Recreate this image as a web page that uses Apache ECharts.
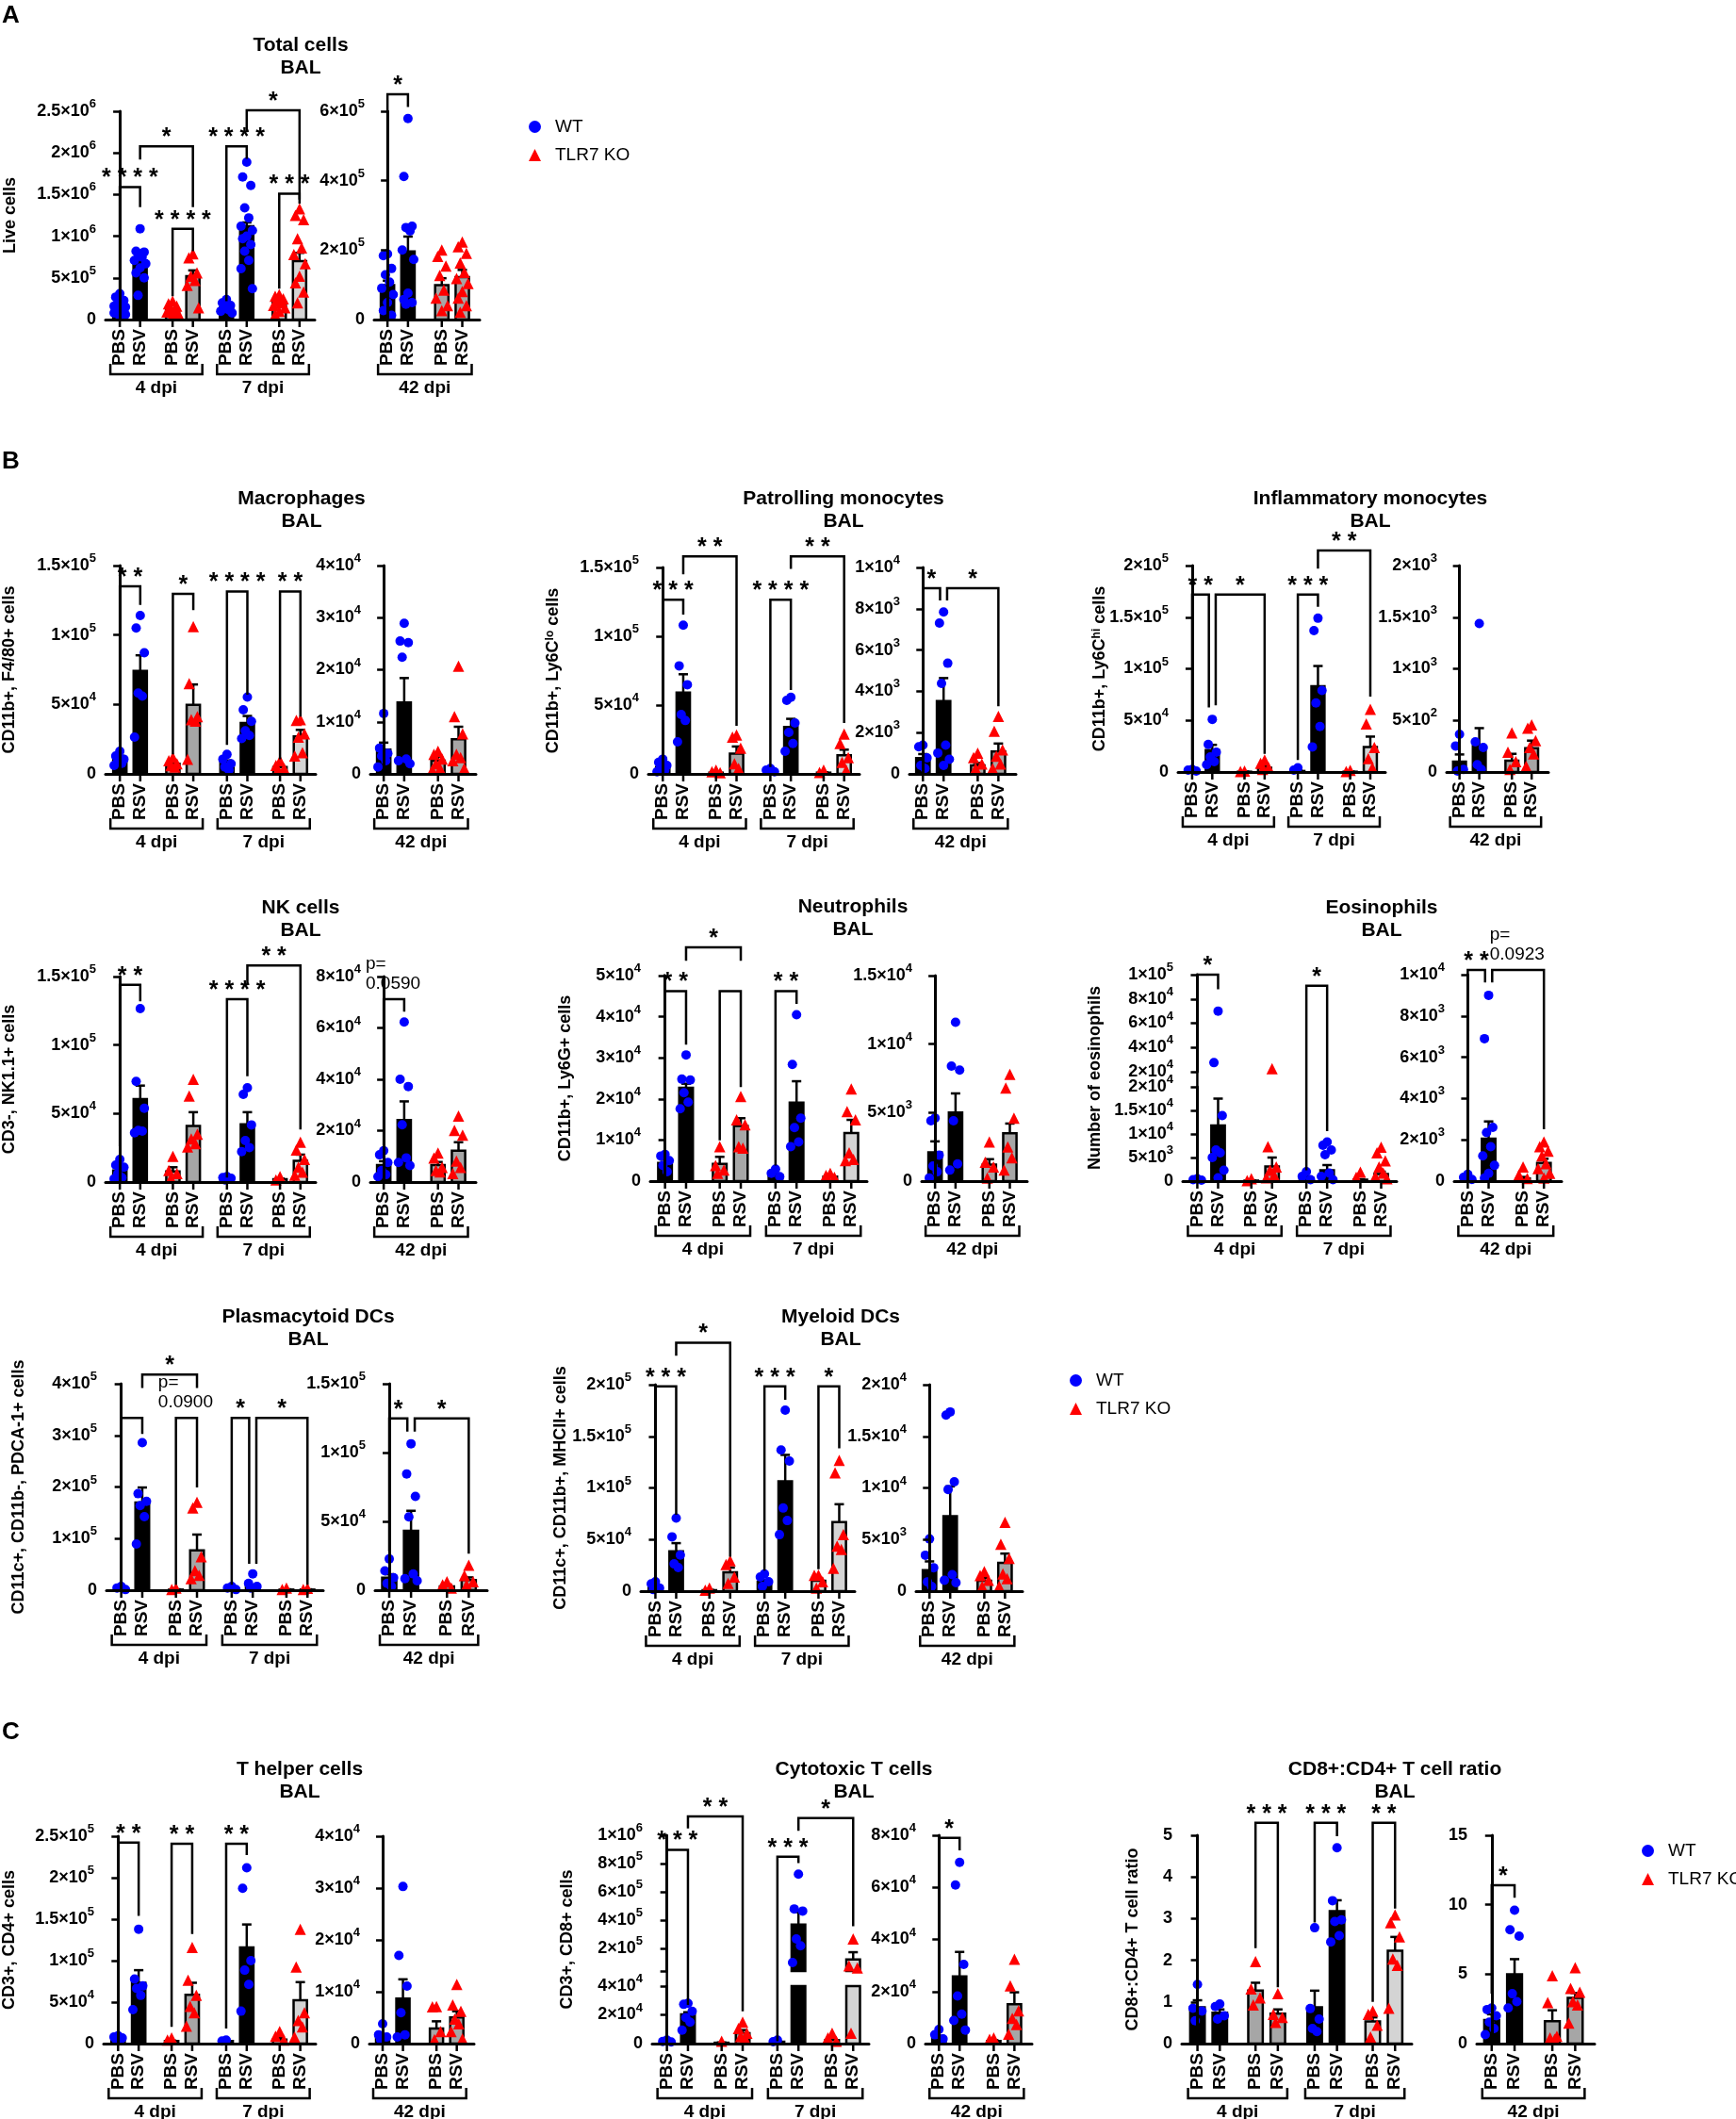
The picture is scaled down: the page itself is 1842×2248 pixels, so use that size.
<!DOCTYPE html>
<html>
<head>
<meta charset="utf-8">
<script src="https://cdn.jsdelivr.net/npm/echarts@6/dist/echarts.min.js"></script>
<style>
html, body { margin: 0; background: #fff; }
#chart-container { width: 1842px; height: 2248px; }
</style>
</head>
<body>
<div id="chart-container"></div>
<script>
// ---- categories ----
const treatments = ['PBS','RSV','PBS','RSV','PBS','RSV','PBS','RSV','PBS','RSV','PBS','RSV'];
const genotypes = ['WT','WT','TLR7 KO','TLR7 KO','WT','WT','TLR7 KO','TLR7 KO','WT','WT','TLR7 KO','TLR7 KO'];
const timepoints = ['4 dpi','7 dpi','42 dpi'];

// bar order: 4dpi WT PBS, WT RSV, KO PBS, KO RSV, 7dpi (same), 42dpi (same)
// sig rows: [bar1, bar2, bracket top, left leg end, right leg end, label]

// ---- Total cells ----
const totalMean = [1.3e5, 7.1e5, 1.2e5, 5.2e5, 1.4e5, 1.12e6, 2.1e5, 7.0e5, 9.9e4, 1.96e5, 9.9e4, 1.22e5];
const totalSem = [2e4, 5.5e4, 1.5e4, 7e4, 2e4, 4.5e4, 2e4, 1.0e5, 1.3e4, 4.3e4, 2.0e4, 2.1e4];
const totalPts = [
  [310e3,270e3,230e3,200e3,180e3,160e3,150e3,130e3,120e3,110e3,100e3,90e3,80e3,60e3,40e3],
  [1090e3,820e3,810e3,790e3,750e3,710e3,670e3,620e3,560e3,500e3,290e3],
  [220e3,190e3,160e3,130e3,110e3,90e3,70e3,50e3],
  [790e3,740e3,560e3,520e3,470e3,410e3,140e3],
  [240e3,200e3,170e3,140e3,120e3,100e3,80e3],
  [1890e3,1710e3,1610e3,1340e3,1220e3,1120e3,1070e3,1000e3,970e3,900e3,820e3,710e3,610e3,370e3],
  [300e3,280e3,250e3,220e3,200e3,170e3,140e3,100e3,60e3],
  [1330e3,1250e3,1200e3,970e3,860e3,780e3,670e3,520e3,440e3,330e3,200e3],
  [189e3,184e3,147e3,129e3,108e3,90e3,72e3,49e3,26e3,12e3],
  [579e3,412e3,269e3,265e3,255e3,200e3,173e3,76e3,58e3,49e3,44e3],
  [200e3,182e3,154e3,127e3,85e3,62e3,40e3,26e3],
  [223e3,210e3,191e3,163e3,136e3,118e3,104e3,81e3,62e3,40e3,21e3]
];
const totalSig = [
  [0,1,1.59e6,3.5e5,1.35e6,'****'], [1,3,2.08e6,1.92e6,1.35e6,'*'], [2,3,1.09e6,2.8e5,8.2e5,'****'],
  [4,5,2.08e6,2.2e5,1.93e6,'****'], [5,7,2.51e6,2.25e6,1.39e6,'*'], [6,7,1.51e6,3.7e5,1.44e6,'***'],
  [8,9,6.49e5,2.0e5,6.12e5,'*']
];
const totalTicksL = [0,5e5,1e6,1.5e6,2e6,2.5e6];
const totalTicksR = [0,2e5,4e5,6e5];

// ---- Macrophages ----
const macroMean = [1.05e4, 7.41e4, 7.3e3, 4.98e4, 7.9e3, 3.67e4, 5e3, 2.7e4, 4.65e3, 1.37e4, 2.54e3, 6.65e3];
const macroSem = [2.5e3, 1.13e4, 1.5e3, 1.46e4, 1.8e3, 5e3, 1.2e3, 4.7e3, 1.35e3, 4.7e3, 0.8e3, 2.4e3];
const macroPts = [
  [16.3e3,12.9e3,10.6e3,9.5e3,7.7e3,6.1e3], [114e3,105e3,87.2e3,58.2e3,56e3,26.5e3],
  [11.8e3,9.5e3,7.3e3,6.0e3,5.0e3], [106e3,65e3,41.2e3,39e3,38e3,10.6e3],
  [14e3,10.6e3,7.3e3,5e3,2.7e3], [55.3e3,46.2e3,37.8e3,31e3,27.6e3,25.4e3],
  [9.5e3,6.1e3,3.9e3,2.7e3], [39e3,38.5e3,28.8e3,26.5e3,15.2e3,12.9e3],
  [11.6e3,4.95e3,3.93e3,3.44e3,2.54e3,1.33e3], [28.9e3,25.5e3,25.2e3,22.4e3,2.84e3,2.54e3,1.93e3],
  [4.35e3,3.75e3,2.84e3,1.93e3,1.03e3,0.73e3], [20.7e3,11.0e3,7.67e3,3.75e3,3.14e3,2.54e3,1.03e3]
];
const macroSig = [
  [0,1,135e3,23e3,121.7e3,'**'], [2,3,129.6e3,14e3,118e3,'*'],
  [4,5,131.4e3,20.8e3,57e3,'****'], [6,7,131.4e3,10.6e3,41.2e3,'**']
];
const macroTicksL = [0,5e4,1e5,1.5e5];
const macroTicksR = [0,1e4,2e4,3e4,4e4];

// ---- Patrolling monocytes ----
const patrolMean = [5e3, 59.1e3, 0.9e3, 14.8e3, 2e3, 34e3, 0.9e3, 13.5e3, 760, 3530, 410, 1090];
const patrolSem = [1.5e3, 13.3e3, 0.3e3, 5.1e3, 0.4e3, 6e3, 0.3e3, 4.1e3, 200, 1110, 120, 380];
const patrolPts = [
  [10.7e3,8.4e3,6.2e3,5e3,2.7e3,1.6e3], [108e3,78.5e3,64.8e3,43.2e3,38.8e3,23.3e3],
  [2.7e3,1.6e3,0.9e3], [28.3e3,26.7e3,18.7e3,7.3e3,3.9e3],
  [3.9e3,2.7e3,1.6e3], [55.7e3,53.4e3,37e3,30.1e3,22.1e3,16.4e3],
  [2.7e3,1.1e3], [29e3,22.1e3,11.9e3,8.4e3,2.7e3],
  [1390,1310,780,410,260], [7840,7310,5360,4380,1390,1010,710,410],
  [1010,790,480,260], [2780,2070,1160,860,480,260]
];
const patrolSig = [
  [0,1,126.5e3,24.4e3,115.7e3,'***'], [1,3,158e3,145e3,35e3,'**'],
  [4,5,126.5e3,5e3,61e3,'****'], [5,7,158e3,149e3,37e3,'**'],
  [8,9,9.0e3,2.0e3,8.4e3,'*'], [9,11,9.0e3,8.4e3,3.28e3,'*']
];
const patrolTicksL = [0,5e4,1e5,1.5e5];
const patrolTicksR = [0,2e3,4e3,6e3,8e3,1e4];

// ---- Inflammatory monocytes ----
const inflamMean = [1e3, 21.3e3, 0.3e3, 4e3, 1e3, 83e3, 0.3e3, 24.3e3, 100, 252, 109, 231];
const inflamSem = [0.3e3, 5e3, 0.1e3, 2e3, 0.5e3, 19.7e3, 0.1e3, 10e3, 70, 173, 67, 73];
const inflamPts = [
  [2.4e3,1.8e3,0.9e3], [51e3,26.7e3,19.1e3,14.6e3,10e3,7e3],
  [0.9e3,0.5e3], [11.6e3,8.5e3,4e3,2.4e3],
  [4e3,1.8e3], [149e3,137e3,79e3,66.9e3,44e3,24.3e3],
  [1.5e3,0.5e3], [60.8e3,46.5e3,23.7e3,13e3,4e3],
  [365,252,24,9], [1438,292,237,70,24],
  [380,191,100,24], [456,425,304,237,176,55]
];
const inflamSig = [
  [0,1,172e3,11.6e3,62.6e3,'**'], [1,3,172e3,64.7e3,17.6e3,'*'],
  [4,5,172e3,11.6e3,160e3,'***'], [5,7,214.6e3,197e3,73e3,'**']
];
const inflamTicksL = [0,5e4,1e5,1.5e5,2e5];
const inflamTicksR = [0,500,1000,1500,2000];

// ---- NK cells ----
const nkMean = [8.5e3, 60.6e3, 7.8e3, 41e3, 2.8e3, 42.2e3, 2e3, 15.4e3, 6.6e3, 24.1e3, 6.6e3, 12.2e3];
const nkSem = [1.6e3, 9.8e3, 3e3, 10e3, 0.5e3, 8.8e3, 0.5e3, 4.6e3, 1.5e3, 7.3e3, 1.2e3, 3.3e3];
const nkPts = [
  [16.5e3,12.4e3,10.8e3,6.2e3,3.2e3,2.3e3], [126.6e3,73.4e3,53.9e3,37.6e3,37.2e3,36e3],
  [18.8e3,8.5e3,6.2e3,2.8e3], [75e3,62.8e3,34.9e3,31.4e3,28e3,25.7e3],
  [3.9e3,3.2e3,2.8e3,1.6e3], [68.8e3,64e3,41.7e3,30.3e3,25.2e3,22.2e3],
  [3.9e3,1.6e3], [29.1e3,23.4e3,16.5e3,10.8e3,7.3e3,5e3],
  [12.2e3,10.6e3,7.6e3,4.5e3,2.9e3,2.1e3], [62.3e3,40e3,37.2e3,22.3e3,9.4e3,7.6e3,6.4e3],
  [11.3e3,9.4e3,5.7e3,4.5e3,3.9e3], [25.7e3,20.1e3,18.3e3,8.2e3,5.7e3,3.3e3]
];
const nkSig = [
  [0,1,144e3,26.1e3,131.9e3,'**'], [4,5,133.5e3,3.2e3,77.3e3,'****'],
  [5,7,158e3,143.8e3,38.3e3,'**'], [8,9,71.2e3,14.3e3,66.3e3,'p=\n0.0590']
];
const nkTicksL = [0,5e4,1e5,1.5e5];
const nkTicksR = [0,2e4,4e4,6e4,8e4];

// ---- Neutrophils ----
const neutMean = [4.4e3, 22.7e3, 4.2e3, 13.4e3, 1.5e3, 19.1e3, 1.1e3, 11.7e3, 2.1e3, 5.0e3, 1.2e3, 3.5e3];
const neutSem = [0.8e3, 1.0e3, 1.7e3, 1.9e3, 0.3e3, 5.2e3, 0.2e3, 3.2e3, 0.8e3, 1.4e3, 0.4e3, 0.7e3];
const neutPts = [
  [6.5e3,6.1e3,5e3,3.8e3,2.3e3], [30.7e3,24.8e3,24.6e3,21.5e3,19.2e3,17.6e3],
  [8.4e3,3.8e3,2.7e3,1.9e3], [20.6e3,14.9e3,13.7e3,8.4e3,8e3],
  [2.9e3,1.9e3,1.1e3], [40.5e3,28.4e3,15.3e3,13e3,9.5e3,8.4e3],
  [1.9e3,1.4e3,0.9e3], [22.4e3,16.9e3,14.9e3,6.9e3,5.3e3,5e3],
  [4.6e3,4.4e3,1.9e3,1.1e3,680,230], [11.6e3,8.4e3,8.1e3,4.4e3,1250,800],
  [2850,1370,1030,230], [7.8e3,6.8e3,4.6e3,2.5e3,1.7e3,800]
];
const neutSig = [
  [0,1,46.2e3,8.4e3,33.2e3,'**'], [1,3,56.9e3,53.6e3,53.6e3,'*'],
  [2,3,46.2e3,9.9e3,22.9e3,''], [4,5,46.2e3,3.8e3,43.1e3,'**']
];
const neutTicksL = [0,1e4,2e4,3e4,4e4,5e4];
const neutTicksR = [0,5e3,1e4,1.5e4];

// ---- Eosinophils (broken left axis) ----
const eosMean = [200, 11.8e3, 100, 3.1e3, 700, 2.3e3, 300, 1.5e3, 80, 2050, 120, 880];
const eosSem = [100, 5.7e3, 50, 1.9e3, 300, 1.1e3, 100, 500, 30, 840, 80, 200];
const eosPts = [
  [500,300,200], [70e3,27.5e3,13.9e3,6.6e3,6.0e3,5e3,2.3e3,700],
  [500,100], [22.6e3,7.3e3,3.0e3,2.3e3,1.3e3,700],
  [2.0e3,1.0e3,300], [8.3e3,7.6e3,6.6e3,5.6e3,1.7e3,1.0e3,300],
  [1.9e3,800], [7.2e3,6.0e3,4.3e3,3.0e3,1.7e3,1.0e3,500],
  [330,180,80], [9000,6900,2600,2350,1670,1220,760,380,150],
  [680,300,120], [1900,1670,1450,1220,840,610,380,150]
];
const eosSig = [
  [0,1,1e5,1.3e3,88e3,'*'], [4,5,90.8e3,2.3e3,10.6e3,'*'],
  [8,9,10.23e3,380,9.62e3,'**'], [9,11,10.23e3,9.62e3,2.51e3,'p=\n0.0923']
];
const eosTicksL = [0,5e3,1e4,1.5e4,2e4];
const eosTicksHi = [2e4,4e4,6e4,8e4,1e5];
const eosTicksR = [0,2e3,4e3,6e3,8e3,1e4];
const eosBreak = 2e4;

// ---- Plasmacytoid DCs ----
const pdcMean = [2.4e3, 170e3, 1.2e3, 77.3e3, 2.4e3, 7.3e3, 1.2e3, 1.2e3, 9.1e3, 43.2e3, 2.7e3, 7.3e3];
const pdcSem = [1e3, 29e3, 0.5e3, 30.5e3, 1e3, 3e3, 0.5e3, 0.5e3, 2.5e3, 14.5e3, 0.8e3, 2e3];
const pdcPts = [
  [7.3e3,4.3e3,1.2e3], [286e3,187e3,172e3,164e3,142.5e3,89.5e3],
  [4.3e3,1.2e3], [170.5e3,159.5e3,65e3,37.7e3,28.6e3,22.5e3],
  [7.3e3,4.3e3,1.2e3], [31.7e3,13.4e3,7.3e3,4.3e3],
  [4.3e3,1.2e3], [3.7e3,1.2e3],
  [22.7e3,14.1e3,9.1e3,5e3,2.7e3], [106.4e3,84.5e3,68.2e3,53.2e3,11.8e3,8.4e3,6.8e3],
  [6.1e3,3.9e3,1.6e3], [18.2e3,10.7e3,6.1e3,3.9e3]
];
const pdcSig = [
  [0,1,334e3,10.3e3,302.6e3,''], [1,3,418e3,392e3,392e3,'*'], [2,3,334e3,10.3e3,199e3,'p=\n0.0900'],
  [4,5,334e3,10.3e3,51e3,'*'], [5,7,334e3,51e3,10.3e3,'*'],
  [8,9,124.8e3,28.2e3,115.2e3,'*'], [9,11,124.8e3,115.2e3,26.6e3,'*']
];
const pdcTicksL = [0,1e5,2e5,3e5,4e5];
const pdcTicksR = [0,5e4,1e5,1.5e5];

// ---- Myeloid DCs ----
const mdcMean = [4.6e3, 38.6e3, 0.9e3, 18.2e3, 9.1e3, 106.4e3, 10e3, 66.9e3, 2.03e3, 7.27e3, 1.0e3, 2.73e3];
const mdcSem = [1.2e3, 7.9e3, 0.3e3, 4.6e3, 1.5e3, 25.6e3, 2e3, 17.3e3, 0.85e3, 2.88e3, 0.3e3, 0.91e3];
const mdcPts = [
  [9.1e3,7e3,3e3,1.5e3], [70.8e3,52.6e3,35e3,26.4e3,22.8e3],
  [3e3,0.9e3], [29.5e3,25.8e3,13.7e3,7.6e3],
  [16.7e3,13.7e3,9.1e3,4.6e3], [175.4e3,136.8e3,126.1e3,80.5e3,68.4e3,54.7e3],
  [15.5e3,15.2e3,9.1e3,3e3], [126.7e3,114.6e3,54.7e3,43.5e3,40.4e3,22.2e3],
  [5.06e3,3.48e3,2.27e3,900,450], [17.36e3,17.06e3,10.6e3,9.85e3,1.6e3,1.06e3,820],
  [1.9e3,1.5e3,1.06e3,450], [6.67e3,4.55e3,3.18e3,1.67e3,1.2e3,450]
];
const mdcSig = [
  [0,1,198.5e3,9.1e3,73.9e3,'***'], [1,3,240.7e3,228e3,33.4e3,'*'],
  [4,5,198.5e3,19.8e3,185.4e3,'***'], [6,7,198.5e3,21.3e3,138.3e3,'*']
];
const mdcTicksL = [0,5e4,1e5,1.5e5,2e5];
const mdcTicksR = [0,5e3,1e4,1.5e4,2e4];

// ---- T helper cells ----
const thMean = [5.7e3, 73.3e3, 3e3, 58.9e3, 3e3, 115.9e3, 4.9e3, 52.4e3, 1.39e3, 8.67e3, 2.9e3, 5.03e3];
const thSem = [1e3, 15.2e3, 0.6e3, 14.4e3, 0.4e3, 27.7e3, 2e3, 21.7e3, 0.4e3, 3.73e3, 1.4e3, 1.21e3];
const thPts = [
  [9.5e3,8e3,6.8e3,5e3,4.2e3], [137.9e3,77.9e3,69.5e3,66.5e3,58.1e3,41e3],
  [6.8e3,4.2e3], [115.9e3,76.4e3,58.1e3,44.8e3,37.2e3,20.9e3],
  [4.2e3,3e3], [212e3,187.3e3,99.9e3,88.5e3,71.4e3,39.1e3],
  [14.4e3,8.7e3,4.2e3], [137.9e3,92.3e3,37.2e3,27.7e3,20.1e3,8e3],
  [3.82e3,1.7e3,1.27e3,790], [30.3e3,17e3,11.1e3,5.94e3,1.7e3,1.27e3],
  [7.15e3,7.1e3,2.3e3,790], [11.4e3,7.45e3,6.24e3,4.73e3,3.82e3,2.3e3,910]
];
const thSig = [
  [0,1,242.4e3,20.9e3,153.9e3,'**'], [2,3,241e3,20.1e3,132.2e3,'**'], [4,5,241e3,18.2e3,227.2e3,'**']
];
const thTicksL = [0,5e4,1e5,1.5e5,2e5,2.5e5];
const thTicksR = [0,1e4,2e4,3e4,4e4];

// ---- Cytotoxic T cells (broken left axis) ----
const tcMean = [1.1e3, 20.3e3, 0.6e3, 7.2e3, 1.3e3, 367.6e3, 2.4e3, 122e3, 2.2e3, 25.8e3, 1e3, 15.1e3];
const tcSem = [0.3e3, 1.5e3, 0.2e3, 2.2e3, 0.3e3, 89e3, 1.2e3, 51e3, 0.8e3, 9.4e3, 0.3e3, 4.6e3];
const tcPts = [
  [2.4e3,1.5e3,1.1e3], [28e3,27.3e3,22.5e3,18e3,14.9e3,9.4e3],
  [1.7e3], [14.9e3,10.5e3,7.2e3,5e3,3.9e3],
  [2.4e3,1.3e3], [725e3,479e3,464e3,267e3,218e3,99.5e3],
  [7.2e3,3.9e3,1.7e3], [267e3,77e3,61.5e3,7.2e3],
  [5.45e3,3.4e3,1.8e3], [69.6e3,60.9e3,30.4e3,18.3e3,11.3e3,8.85e3,5.2e3],
  [2.2e3,1.6e3], [32.4e3,22.2e3,12.6e3,9.7e3,7.3e3,3.6e3]
];
const tcSig = [
  [0,1,897e3,1.7e3,26.9e3,'***'], [1,3,1134e3,1049e3,22.5e3,'**'],
  [4,5,848e3,1.7e3,803e3,'***'], [5,7,1121e3,1031e3,356e3,'*'],
  [8,9,79e3,7e3,74.2e3,'*']
];
const tcTicksL = [0,1e4,2e4,3e4,4e4];
const tcTicksHi = [2e5,4e5,6e5,8e5,1e6];
const tcTicksR = [0,2e4,4e4,6e4,8e4];
const tcBreak = 4e4;

// ---- CD8+:CD4+ ratio ----
const ratioMean = [0.87, 0.74, 1.27, 0.72, 0.87, 3.18, 0.53, 2.23, 1.7, 4.99, 1.61, 3.29];
const ratioSem = [0.17, 0.08, 0.19, 0.1, 0.4, 0.26, 0.1, 0.33, 0.41, 1.09, 0.79, 0.35];
const ratioPts = [
  [1.42,0.85,0.78,0.55], [0.95,0.89,0.67,0.59], [1.97,1.31,1.1,0.93], [1.2,0.7,0.63,0.51],
  [2.78,0.84,0.59,0.36,0.29], [4.7,3.43,2.97,2.93,2.59,2.44], [0.78,0.7,0.44,0.16], [3.09,2.9,2.56,2.03,1.88,0.85],
  [2.56,2.45,2.0,1.54,1.09,0.64], [9.6,8.2,7.74,3.59,3.02,2.56], [4.88,2.95,0.52,0.41,0.3], [5.47,3.97,3.7,3.02,2.79,1.47]
];
const ratioSig = [
  [2,3,5.30,2.29,1.35,'***'], [4,5,5.30,2.91,4.98,'***'], [6,7,5.30,1.0,3.24,'**'], [8,9,11.41,3.59,10.5,'*']
];
const ratioTicksL = [0,1,2,3,4,5];
const ratioTicksR = [0,5,10,15];

// ---- layout / style ----
const FONT = '"Liberation Sans", Arial, Helvetica, sans-serif';
const xsLeft = [0, 1, 2.6, 3.6, 5.25, 6.25, 7.85, 8.85];
const xsRight = [0, 1, 2.65, 3.65];
const jit = [0, -0.2, 0.2, -0.1, 0.1, -0.28, 0.28];
const barFill = ['#000','#000','#a6a6a6','#a6a6a6','#000','#000','#d4d4d4','#d4d4d4','#000','#000','#a6a6a6','#a6a6a6'];
const LAY = {
  total:  {L:112, R:397, top:118, zero:339, lw:222, rw:112, tx:319, ty:60, ylx:11},
  macro:  {L:112, R:393, top:600, zero:821, lw:223, rw:112, tx:320, ty:541, ylx:10},
  patrol: {L:688, R:965, top:602, zero:821, lw:224, rw:113, tx:895, ty:541, ylx:587},
  inflam: {L:1250, R:1535, top:600, zero:819, lw:220, rw:108, tx:1454, ty:541, ylx:1167},
  nk:     {L:112, R:393, top:1036, zero:1254, lw:223, rw:112, tx:319, ty:975, ylx:10},
  neut:   {L:690, R:978, top:1035, zero:1253, lw:230, rw:112, tx:905, ty:974, ylx:600},
  eos:    {L:1255, R:1543, top:1034, zero:1253, lw:227, rw:114, tx:1466, ty:975, ylx:1162, lowTop:1153, highBottom:1137},
  pdc:    {L:113, R:398, top:1468, zero:1687, lw:230, rw:119, tx:327, ty:1409, ylx:20},
  mdc:    {L:680, R:972, top:1469, zero:1688, lw:227, rw:113, tx:892, ty:1409, ylx:595},
  th:     {L:110, R:392, top:1948, zero:2168, lw:225, rw:111, tx:318, ty:1889, ylx:10},
  tc:     {L:692, R:982, top:1947, zero:2168, lw:230, rw:113, tx:906, ty:1889, ylx:602, lowTop:2107, highBottom:2091},
  ratio:  {L:1254, R:1567, top:1947, zero:2168, lw:244, rw:125, tx:1480, ty:1889, ylx:1202}
};

const panels = [
  {lay:LAY.total, title:'Total cells\nBAL', ylab:'Live cells', mean:totalMean, sem:totalSem, pts:totalPts, sig:totalSig, ticksL:totalTicksL, ticksR:totalTicksR},
  {lay:LAY.macro, title:'Macrophages\nBAL', ylab:'CD11b+, F4/80+ cells', mean:macroMean, sem:macroSem, pts:macroPts, sig:macroSig, ticksL:macroTicksL, ticksR:macroTicksR},
  {lay:LAY.patrol, title:'Patrolling monocytes\nBAL', ylab:'CD11b+, Ly6C{s|lo} cells', mean:patrolMean, sem:patrolSem, pts:patrolPts, sig:patrolSig, ticksL:patrolTicksL, ticksR:patrolTicksR},
  {lay:LAY.inflam, title:'Inflammatory monocytes\nBAL', ylab:'CD11b+, Ly6C{s|hi} cells', mean:inflamMean, sem:inflamSem, pts:inflamPts, sig:inflamSig, ticksL:inflamTicksL, ticksR:inflamTicksR},
  {lay:LAY.nk, title:'NK cells\nBAL', ylab:'CD3-, NK1.1+ cells', mean:nkMean, sem:nkSem, pts:nkPts, sig:nkSig, ticksL:nkTicksL, ticksR:nkTicksR},
  {lay:LAY.neut, title:'Neutrophils\nBAL', ylab:'CD11b+, Ly6G+ cells', mean:neutMean, sem:neutSem, pts:neutPts, sig:neutSig, ticksL:neutTicksL, ticksR:neutTicksR},
  {lay:LAY.eos, title:'Eosinophils\nBAL', ylab:'Number of eosinophils', mean:eosMean, sem:eosSem, pts:eosPts, sig:eosSig, ticksL:eosTicksL, ticksHi:eosTicksHi, brk:eosBreak, ticksR:eosTicksR},
  {lay:LAY.pdc, title:'Plasmacytoid DCs\nBAL', ylab:'CD11c+, CD11b-, PDCA-1+ cells', mean:pdcMean, sem:pdcSem, pts:pdcPts, sig:pdcSig, ticksL:pdcTicksL, ticksR:pdcTicksR},
  {lay:LAY.mdc, title:'Myeloid DCs\nBAL', ylab:'CD11c+, CD11b+, MHCII+ cells', mean:mdcMean, sem:mdcSem, pts:mdcPts, sig:mdcSig, ticksL:mdcTicksL, ticksR:mdcTicksR},
  {lay:LAY.th, title:'T helper cells\nBAL', ylab:'CD3+, CD4+ cells', mean:thMean, sem:thSem, pts:thPts, sig:thSig, ticksL:thTicksL, ticksR:thTicksR},
  {lay:LAY.tc, title:'Cytotoxic T cells\nBAL', ylab:'CD3+, CD8+ cells', mean:tcMean, sem:tcSem, pts:tcPts, sig:tcSig, ticksL:tcTicksL, ticksHi:tcTicksHi, brk:tcBreak, ticksR:tcTicksR},
  {lay:LAY.ratio, title:'CD8+:CD4+ T cell ratio\nBAL', ylab:'CD8+:CD4+ T cell ratio', mean:ratioMean, sem:ratioSem, pts:ratioPts, sig:ratioSig, ticksL:ratioTicksL, ticksR:ratioTicksR, plain:true}
];

const RICH = {
  m: {fontSize: 18, fontWeight: 'bold', fontFamily: FONT, color: '#000', lineHeight: 28, verticalAlign: 'middle'},
  e: {fontSize: 13, fontWeight: 'bold', fontFamily: FONT, color: '#000', lineHeight: 15, verticalAlign: 'top'}
};
function sciFmt(v) {
  if (v === 0) return '{m|0}';
  const e = Math.floor(Math.log10(v) + 1e-9);
  const m = Math.round(v / Math.pow(10, e) * 100) / 100;
  return '{m|' + m + '×10}{e|' + e + '}';
}
function plainFmt(v) { return '{m|' + v + '}'; }
const last = a => a[a.length - 1];

const chart = echarts.init(document.getElementById('chart-container'));
const option = {
  animation: false, backgroundColor: '#fff', textStyle: {fontFamily: FONT},
  grid: [], xAxis: [], yAxis: [], series: [], graphic: [], legend: []
};

function addGrid(left, top, width, height) {
  option.grid.push({left, top, width, height});
  return option.grid.length - 1;
}
function addX(gi, xr, show) {
  option.xAxis.push({
    gridIndex: gi, type: 'value', min: xr[0], max: xr[1], show, z: 10, position: 'bottom',
    axisLine: {show: true, onZero: false, lineStyle: {color: '#000', width: 3}},
    axisTick: {show: false}, axisLabel: {show: false}, splitLine: {show: false}
  });
  return option.xAxis.length - 1;
}
function addY(gi, min, max, interval, custom, fmt) {
  const ax = {
    gridIndex: gi, type: 'value', min, max, z: 10,
    axisLine: {show: true, lineStyle: {color: '#000', width: 3}},
    axisTick: {show: true, length: 7, lineStyle: {color: '#000', width: 2.5}},
    axisLabel: {show: true, margin: 10, formatter: fmt, rich: RICH, showMinLabel: true, showMaxLabel: true},
    splitLine: {show: false}
  };
  if (min % interval === 0) {
    ax.interval = interval;
  } else {
    ax.axisTick.customValues = [min].concat(custom);
    ax.axisLabel.customValues = custom;
  }
  option.yAxis.push(ax);
  return option.yAxis.length - 1;
}

// legs that share a bar and overlap vertically are pushed apart a little
function legOffsets(sig) {
  const off = sig.map(() => [0, 0]);
  sig.forEach((a, i) => sig.forEach((b, j) => {
    if (i === j || a[1] !== b[0]) return;
    const lo = Math.max(a[4], b[3]), hi = Math.min(a[2], b[2]);
    if (lo < hi) { off[i][1] = -0.17; off[j][0] = 0.17; }
  }));
  return off;
}

function yMapper(api, s) {
  return v => (s.brk == null || v <= s.brk)
    ? api.coord([0, v])[1]
    : chart.convertToPixel({yAxisIndex: s.yiHi}, v);
}

function buildPanel(p) {
  const L = p.lay;
  const fmt = p.plain ? plainFmt : sciFmt;
  const off = legOffsets(p.sig);
  const sides = [
    {bars: [0,1,2,3,4,5,6,7], xs: xsLeft, left: L.L, width: L.lw, xr: [-0.7, 9.6], ticks: p.ticksL, hi: p.ticksHi, brk: p.brk, groups: [[0,3,0],[4,7,1]]},
    {bars: [8,9,10,11], xs: xsRight, left: L.R, width: L.rw, xr: [-0.65, 4.5], ticks: p.ticksR, groups: [[8,11,2]]}
  ];
  sides.forEach(s => {
    const step = s.ticks[1] - s.ticks[0];
    if (s.brk != null) {
      const gLo = addGrid(s.left, L.lowTop, s.width, L.zero - L.lowTop);
      const gHi = addGrid(s.left, L.top, s.width, L.highBottom - L.top);
      s.xi = addX(gLo, s.xr, true);
      s.yi = addY(gLo, 0, s.brk, step, null, fmt);
      s.xiHi = addX(gHi, s.xr, false);
      s.yiHi = addY(gHi, s.brk, last(s.hi), s.hi[1] - s.hi[0], s.hi, fmt);
    } else {
      const g = addGrid(s.left, L.top, s.width, L.zero - L.top);
      s.xi = addX(g, s.xr, true);
      s.yi = addY(g, 0, last(s.ticks), step, null, fmt);
    }
    const xOf = b => s.xs[s.bars.indexOf(b)];

    // bars + SEM
    option.series.push({
      type: 'custom', xAxisIndex: s.xi, yAxisIndex: s.yi, clip: false, silent: true, z: 1,
      data: s.bars.map(b => [xOf(b), p.mean[b], p.sem[b], b]),
      renderItem(params, api) {
        const Y = yMapper(api, s);
        const x = api.value(0), m = api.value(1), se = api.value(2), b = api.value(3);
        const cx = api.coord([x, 0])[0];
        const w = api.size([0.65, 0])[0];
        const y0 = Y(0);
        const st = {fill: barFill[b], stroke: '#000', lineWidth: 2.5};
        const kids = [];
        if (s.brk != null) {
          const yl = Y(Math.min(m, s.brk));
          kids.push({type: 'rect', shape: {x: cx - w / 2, y: yl, width: w, height: y0 - yl}, style: st});
          if (m > s.brk) {
            const yb = chart.convertToPixel({yAxisIndex: s.yiHi}, s.brk), yt = Y(m);
            kids.push({type: 'rect', shape: {x: cx - w / 2, y: yt, width: w, height: yb - yt}, style: st});
          }
        } else {
          const ym = Y(m);
          kids.push({type: 'rect', shape: {x: cx - w / 2, y: ym, width: w, height: y0 - ym}, style: st});
        }
        const ym = Y(m), ye = Y(m + se);
        kids.push({type: 'line', shape: {x1: cx, y1: ym, x2: cx, y2: ye}, style: {stroke: '#000', lineWidth: 2.5}});
        kids.push({type: 'line', shape: {x1: cx - 5, y1: ye, x2: cx + 5, y2: ye}, style: {stroke: '#000', lineWidth: 2.5}});
        return {type: 'group', children: kids};
      }
    });

    // individual animals
    ['WT', 'TLR7 KO'].forEach(g => {
      const lo = [], hi = [];
      s.bars.forEach(b => {
        if (genotypes[b] !== g) return;
        p.pts[b].forEach((v, j) => {
          const d = [xOf(b) + jit[j % jit.length], v];
          (s.brk != null && v > s.brk ? hi : lo).push(d);
        });
      });
      const base = {
        type: 'scatter', name: g, silent: true, z: 3,
        symbol: g === 'WT' ? 'circle' : 'triangle', symbolSize: g === 'WT' ? 10 : 12,
        itemStyle: {color: g === 'WT' ? '#0000ff' : '#ff0000', opacity: 1}
      };
      option.series.push(Object.assign({}, base, {xAxisIndex: s.xi, yAxisIndex: s.yi, data: lo}));
      if (s.brk != null) option.series.push(Object.assign({}, base, {xAxisIndex: s.xiHi, yAxisIndex: s.yiHi, data: hi}));
    });

    // significance brackets
    const sigIdx = p.sig.map((r, i) => i).filter(i => s.bars.indexOf(p.sig[i][0]) >= 0);
    option.series.push({
      type: 'custom', xAxisIndex: s.xi, yAxisIndex: s.yi, clip: false, silent: true, z: 4,
      data: sigIdx.map(i => {
        const r = p.sig[i];
        return [xOf(r[0]) + off[i][0], xOf(r[1]) + off[i][1], r[2], r[3], r[4]];
      }),
      renderItem(params, api) {
        const Y = yMapper(api, s);
        const x1 = api.coord([api.value(0), 0])[0], x2 = api.coord([api.value(1), 0])[0];
        const yt = Y(api.value(2)), y1 = Y(api.value(3)), y2 = Y(api.value(4));
        const lab = p.sig[sigIdx[params.dataIndex]][5];
        const kids = [{type: 'polyline', shape: {points: [[x1, y1], [x1, yt], [x2, yt], [x2, y2]]},
          style: {stroke: '#000', lineWidth: 2.5, fill: null}}];
        const mid = (x1 + x2) / 2;
        if (lab.indexOf('p=') === 0) {
          kids.push({type: 'text', x: mid - 30, y: yt - 6, style: {text: lab, align: 'left', verticalAlign: 'bottom',
            lineHeight: 21, font: '19px ' + FONT, fill: '#000'}});
        } else if (lab) {
          kids.push({type: 'text', x: mid, y: yt - 9, style: {text: lab.split('').join(' '), align: 'center',
            verticalAlign: 'middle', font: 'bold 25px ' + FONT, fill: '#000'}});
        }
        return {type: 'group', children: kids};
      }
    });

    // PBS / RSV tick labels
    option.series.push({
      type: 'custom', xAxisIndex: s.xi, yAxisIndex: s.yi, clip: false, silent: true, z: 4,
      data: s.bars.map(b => [xOf(b), 0]),
      renderItem(params, api) {
        const pt = api.coord([api.value(0), 0]);
        return {type: 'group', children: [
          {type: 'line', shape: {x1: pt[0], y1: pt[1] + 1, x2: pt[0], y2: pt[1] + 8}, style: {stroke: '#000', lineWidth: 2.5}},
          {type: 'text', x: pt[0], y: pt[1] + 10, rotation: Math.PI / 2,
            style: {text: treatments[s.bars[params.dataIndex]], align: 'right', verticalAlign: 'middle', font: 'bold 19px ' + FONT, fill: '#000'}}
        ]};
      }
    });

    // time point brackets
    option.series.push({
      type: 'custom', xAxisIndex: s.xi, yAxisIndex: s.yi, clip: false, silent: true, z: 4,
      data: s.groups.map(g => [xOf(g[0]), xOf(g[1])]),
      renderItem(params, api) {
        const y0 = api.coord([0, 0])[1];
        const xa = api.coord([api.value(0), 0])[0] - 10, xb = api.coord([api.value(1), 0])[0] + 10;
        const yb = y0 + 58;
        return {type: 'group', children: [
          {type: 'polyline', shape: {points: [[xa, yb - 11], [xa, yb], [xb, yb], [xb, yb - 11]]}, style: {stroke: '#000', lineWidth: 2.5, fill: null}},
          {type: 'text', x: (xa + xb) / 2, y: y0 + 73, style: {text: timepoints[s.groups[params.dataIndex][2]], align: 'center',
            verticalAlign: 'middle', font: 'bold 19px ' + FONT, fill: '#000'}}
        ]};
      }
    });
  });

  // titles
  option.graphic.push({type: 'text', x: L.tx, y: L.ty, silent: true,
    style: {text: p.title, align: 'center', verticalAlign: 'middle', lineHeight: 24, font: 'bold 21px ' + FONT, fill: '#000'}});
  option.graphic.push({type: 'text', x: L.ylx, y: (L.top + L.zero) / 2, rotation: Math.PI / 2, silent: true,
    style: {text: p.ylab, align: 'center', verticalAlign: 'middle', font: 'bold 18px ' + FONT, fill: '#000',
      rich: {s: {fontSize: 12, fontWeight: 'bold', fontFamily: FONT, verticalAlign: 'top', lineHeight: 12}}}});
}

panels.forEach(buildPanel);

[['A', 17], ['B', 490], ['C', 1838]].forEach(([t, y]) => {
  option.graphic.push({type: 'text', x: 2, y, silent: true,
    style: {text: t, align: 'left', verticalAlign: 'middle', font: 'bold 26px ' + FONT, fill: '#000'}});
});

[[556, 120], [1130, 1450], [1737, 1949]].forEach(([left, top]) => {
  option.legend.push({
    data: ['WT', 'TLR7 KO'], orient: 'vertical', left, top, itemWidth: 13, itemHeight: 13, itemGap: 11,
    selectedMode: false, textStyle: {fontSize: 19, fontFamily: FONT, color: '#000', padding: [0, 0, 0, 10]}
  });
});

chart.setOption(option);
</script>
</body>
</html>
